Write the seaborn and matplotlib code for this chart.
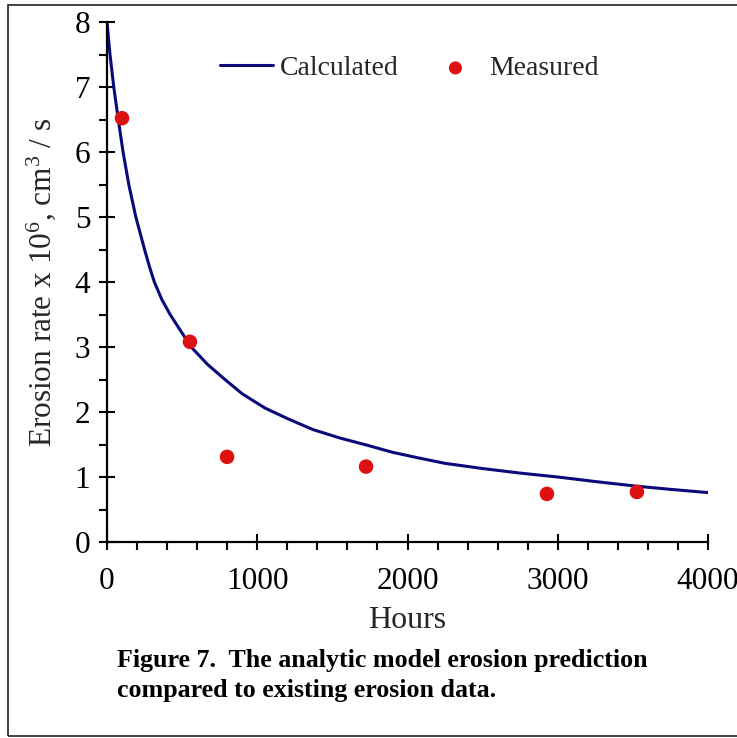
import matplotlib
matplotlib.use("Agg")
import matplotlib.pyplot as plt
from matplotlib.patches import Rectangle
from matplotlib.ticker import MultipleLocator
import seaborn as sns
import pandas as pd

# Calculated curve
calc_hours = [0, 20, 45, 75, 107, 145, 192, 250, 282, 315, 365, 420, 490, 560,
              670, 785, 900, 1052, 1200, 1370, 1550, 1730, 1900, 2060, 2250,
              2500, 2750, 3000, 3250, 3520, 3750, 4000]
calc_rate = [8.0, 7.5, 7.0, 6.5, 6.0, 5.5, 5.0, 4.5, 4.24, 4.0, 3.73, 3.5, 3.25,
             3.0, 2.73, 2.5, 2.28, 2.06, 1.90, 1.73, 1.60, 1.49, 1.38, 1.30,
             1.21, 1.13, 1.06, 1.00, 0.93, 0.86, 0.81, 0.76]

# Measured points
meas_hours = [100, 552, 799, 1724, 2928, 3527]
meas_rate = [6.52, 3.08, 1.31, 1.16, 0.74, 0.77]

x_ticks = [0, 1000, 2000, 3000, 4000]
y_ticks = [0, 1, 2, 3, 4, 5, 6, 7, 8]

sns.set_style("ticks")
plt.rcParams['font.family'] = ['Liberation Serif', 'DejaVu Serif']
plt.rcParams['mathtext.fontset'] = 'custom'
plt.rcParams['mathtext.rm'] = 'Liberation Serif'
plt.rcParams['mathtext.it'] = 'Liberation Serif'

fig = plt.figure(figsize=(7.37, 7.38), dpi=100)
ax = fig.add_axes([107/737, 1-542/738, (708-107)/737, (542-22)/738])

calc_df = pd.DataFrame({"Hours": calc_hours, "Rate": calc_rate})
meas_df = pd.DataFrame({"Hours": meas_hours, "Rate": meas_rate})

sns.lineplot(data=calc_df, x="Hours", y="Rate", ax=ax, color="#0a0a7a",
             linewidth=2.2, label="Calculated", zorder=2)
sns.scatterplot(data=meas_df, x="Hours", y="Rate", ax=ax, color="#dd1111",
                s=110, edgecolor="none", label="Measured", zorder=3)

ax.set_xlim(0, 4000)
ax.set_ylim(0, 8)
ax.set_xticks(x_ticks)
ax.set_yticks(y_ticks)
ax.set_xticklabels([str(v) for v in x_ticks])
ax.set_yticklabels([str(v) for v in y_ticks])
ax.xaxis.set_minor_locator(MultipleLocator(200))
ax.yaxis.set_minor_locator(MultipleLocator(0.5))
ax.tick_params(which="major", direction="inout", length=12, width=1.5,
               labelsize=22.5, color="black", labelcolor="black")
ax.tick_params(axis="x", which="major", pad=12)
ax.tick_params(axis="y", which="major", pad=6)
ax.tick_params(which="minor", direction="out", length=6, width=1.5, color="black")

for s in ["top", "right"]:
    ax.spines[s].set_visible(False)
for s in ["left", "bottom"]:
    ax.spines[s].set_linewidth(1.6)
    ax.spines[s].set_color("black")
    ax.spines[s].set_zorder(5)

ax.set_xlabel("Hours", fontsize=23, labelpad=7)
ax.set_ylabel(r"Erosion rate x 10$^{6}$, cm$^{3}$ / s", fontsize=22.5, labelpad=12)

ax.set_facecolor("white")
ax.grid(False)

leg = ax.legend(loc="center left", bbox_to_anchor=((220-107)/601, (542-68.5)/520),
                ncol=2, frameon=False, fontsize=20, handlelength=1.9,
                handletextpad=0.25, columnspacing=1.1, borderpad=0,
                borderaxespad=0, markerscale=0.9)

fig.text(117/737, 1-660/738, "Figure 7.  The analytic model erosion prediction",
         fontsize=18.75, fontweight="bold", va="center", ha="left", color="black")
fig.text(117/737, 1-690/738, "compared to existing erosion data.",
         fontsize=18.75, fontweight="bold", va="center", ha="left", color="black")

fig.patches.append(Rectangle((7.5/737, 1-736/738), 1.0, (736-5)/738,
                             transform=fig.transFigure, fill=False,
                             edgecolor="#222222", linewidth=1.2))

fig.savefig("out.png", dpi=100, facecolor="white")
